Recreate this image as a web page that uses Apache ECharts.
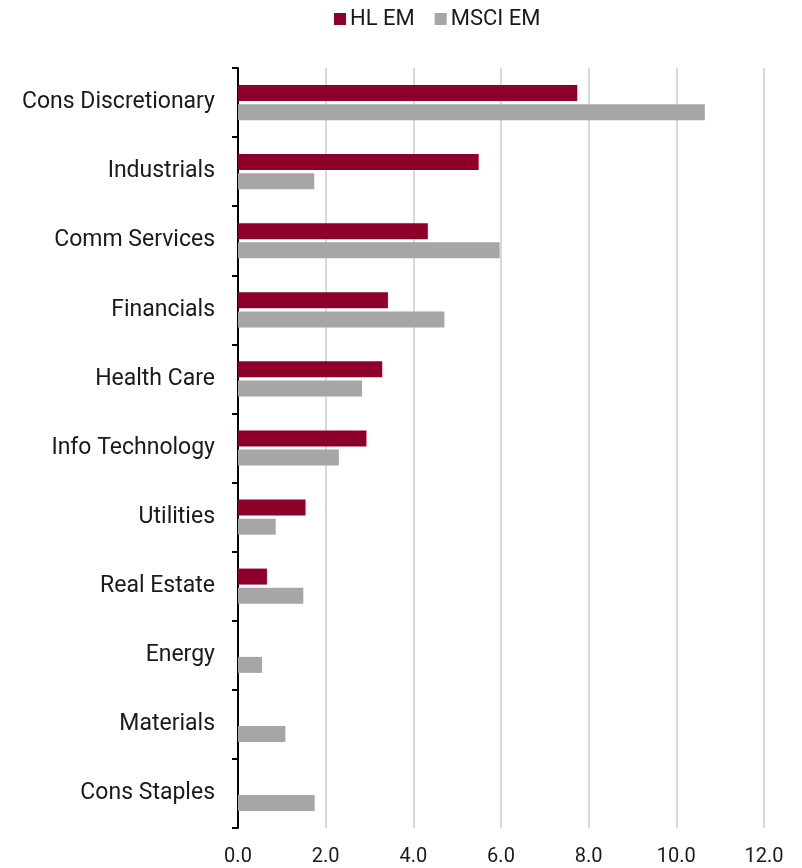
<!DOCTYPE html>
<html>
<head>
<meta charset="utf-8">
<script src="https://cdn.jsdelivr.net/npm/echarts@6/dist/echarts.min.js"></script>
<style>
  html, body { margin: 0; padding: 0; background: #ffffff; }
  #chart { width: 802px; height: 868px; }
</style>
</head>
<body>
<div id="chart"></div>
<script>
// Sector weights (%)
const sectors = [
  'Cons Discretionary', 'Industrials', 'Comm Services', 'Financials',
  'Health Care', 'Info Technology', 'Utilities', 'Real Estate',
  'Energy', 'Materials', 'Cons Staples'
];
const hlEm   = [7.74, 5.49, 4.33, 3.42, 3.29, 2.93, 1.54, 0.66, 0, 0, 0];
const msciEm = [10.65, 1.74, 5.97, 4.71, 2.83, 2.30, 0.86, 1.49, 0.55, 1.08, 1.75];
const seriesNames = ['HL EM', 'MSCI EM'];
const xTicks = { min: 0, max: 12, step: 2 };

const FONT = 'Roboto, "Noto Sans", sans-serif';
const TEXT = '#1a1a1a';

const chart = echarts.init(document.getElementById('chart'), null, { renderer: 'canvas' });
chart.setOption({
  animation: false,
  backgroundColor: '#ffffff',
  textStyle: { fontFamily: FONT, color: TEXT },
  legend: {
    top: 3,
    left: 329,
    icon: 'rect',
    itemWidth: 12,
    itemHeight: 12,
    itemGap: 20,
    itemStyle: { borderWidth: 0 },
    textStyle: { fontSize: 22, color: TEXT, fontFamily: FONT, padding: [0, 0, 0, -1] },
    data: seriesNames
  },
  grid: { left: 238, right: 38, top: 68, bottom: 40, containLabel: false },
  xAxis: {
    type: 'value',
    min: xTicks.min,
    max: xTicks.max,
    interval: xTicks.step,
    axisLine: { show: false },
    axisTick: { show: false },
    splitLine: { show: true, lineStyle: { color: '#d9d9d9', width: 2 } },
    axisLabel: {
      fontSize: 20,
      color: TEXT,
      fontFamily: FONT,
      margin: 19,
      formatter: v => v.toFixed(1)
    }
  },
  yAxis: {
    type: 'category',
    data: sectors,
    inverse: true,
    axisLine: { show: true, lineStyle: { color: '#000000', width: 2 } },
    axisTick: { show: true, length: 6, lineStyle: { color: '#000000', width: 2 } },
    axisLabel: { fontSize: 23, color: TEXT, fontFamily: FONT, margin: 23 }
  },
  series: [
    {
      name: seriesNames[0],
      type: 'bar',
      data: hlEm,
      barWidth: 16,
      barGap: '20%',
      itemStyle: { color: '#8e0029' },
      z: 3
    },
    {
      name: seriesNames[1],
      type: 'bar',
      data: msciEm,
      barWidth: 16,
      itemStyle: { color: '#a6a6a6' },
      z: 3
    }
  ]
});
</script>
</body>
</html>
